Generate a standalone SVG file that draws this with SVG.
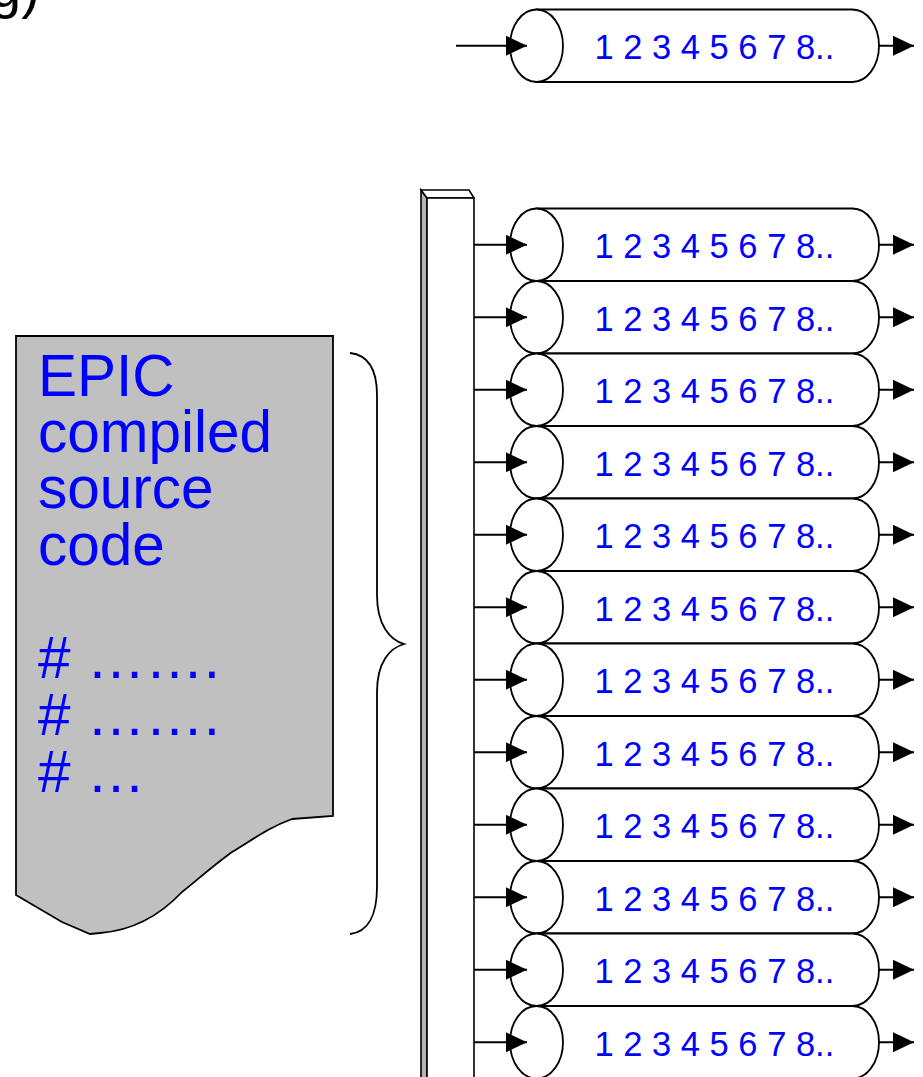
<svg xmlns="http://www.w3.org/2000/svg" xmlns:xlink="http://www.w3.org/1999/xlink" width="923" height="1077" viewBox="0 0 923 1077">
  <style>
    .ln { stroke: #000; stroke-width: 1.8; fill: none; }
    .cyl { stroke: #000; stroke-width: 1.8; fill: #fff; }
    .num { font-family: "Liberation Sans", Arial, sans-serif; font-size: 34.5px; fill: #0000ff; }
    .big { font-family: "Liberation Sans", Arial, sans-serif; font-size: 58.5px; fill: #0000ff; }
    .arr { stroke: #000; stroke-width: 1.8; fill: none; marker-end: url(#head); }
  </style>
  <defs>
    <marker id="head" markerUnits="userSpaceOnUse" markerWidth="21" markerHeight="20" refX="21" refY="10" orient="auto">
      <path d="M0,0 L21,10 L0,20 Z" fill="#000"/>
    </marker>
    <!-- one queue cylinder, centred vertically on y=0 -->
    <g id="cylinder">
      <path class="cyl" d="M536.5,-36.25 H852.5 A26.5,36.25 0 0 1 852.5,36.25 H536.5 Z"/>
      <ellipse class="cyl" cx="536.5" cy="0" rx="26.5" ry="36.25"/>
      <text class="num" x="594.5" y="13.5">1 2 3 4 5 6 7 8..</text>
    </g>
  </defs>

  <rect width="923" height="1077" fill="#fff"/>

  <!-- clipped heading fragment -->
  <text x="-10" y="7" font-family="Liberation Sans, Arial, sans-serif" font-size="56" fill="#000">g)</text>

  <!-- single queue at the top -->
  <g id="queue-top">
    <use xlink:href="#cylinder" transform="translate(0,45.75)"/>
  </g>

  <!-- source code document -->
  <g id="source-doc">
    <path d="M16,336 H333 V816 L292,819 C270,827 255,838 232,852 C210,868 195,882 182,892 C165,910 140,930 100,933 L90,934 L62,922 L16,895 Z" fill="#c0c0c0" stroke="#000" stroke-width="1.8"/>
    <text class="big" x="38" y="396">EPIC</text>
    <text class="big" x="38" y="452">compiled</text>
    <text class="big" x="38" y="508">source</text>
    <text class="big" x="38" y="565">code</text>
    <text class="big" x="38" y="678"># ……. </text>
    <text class="big" x="38" y="735"># ……. </text>
    <text class="big" x="38" y="792"># …</text>
  </g>

  <!-- brace -->
  <g id="brace">
    <path class="ln" d="M350,353 C368,355 377,370 377,395 L377,595 C377,625 390,640 404,644 C390,648 377,662 377,692 L377,887 C377,915 368,932 350,934"/>
  </g>

  <!-- distribution bar -->
  <g id="bar">
    <path d="M421,190 L427,198 L427,1080 L421,1080 Z" fill="#b4b4b4" stroke="#000" stroke-width="1.6"/>
    <path d="M421,190 L469,190 L474,198 L427,198 Z" fill="#fff" stroke="#000" stroke-width="1.6"/>
    <rect x="427" y="198" width="47" height="882" fill="#fff" stroke="#000" stroke-width="1.6"/>
  </g>

  <!-- stacked queues -->
  <g id="queue-1"><use xlink:href="#cylinder" transform="translate(0,244.75)"/></g>
  <g id="queue-2"><use xlink:href="#cylinder" transform="translate(0,317.25)"/></g>
  <g id="queue-3"><use xlink:href="#cylinder" transform="translate(0,389.75)"/></g>
  <g id="queue-4"><use xlink:href="#cylinder" transform="translate(0,462.25)"/></g>
  <g id="queue-5"><use xlink:href="#cylinder" transform="translate(0,534.75)"/></g>
  <g id="queue-6"><use xlink:href="#cylinder" transform="translate(0,607.25)"/></g>
  <g id="queue-7"><use xlink:href="#cylinder" transform="translate(0,679.75)"/></g>
  <g id="queue-8"><use xlink:href="#cylinder" transform="translate(0,752.25)"/></g>
  <g id="queue-9"><use xlink:href="#cylinder" transform="translate(0,824.75)"/></g>
  <g id="queue-10"><use xlink:href="#cylinder" transform="translate(0,897.25)"/></g>
  <g id="queue-11"><use xlink:href="#cylinder" transform="translate(0,969.75)"/></g>
  <g id="queue-12"><use xlink:href="#cylinder" transform="translate(0,1042.25)"/></g>

  <!-- connectors -->
  <g id="connectors">
    <line class="arr" x1="456" y1="45.75" x2="527" y2="45.75"/>
    <line class="arr" x1="879" y1="45.75" x2="914" y2="45.75"/>

    <line class="arr" x1="474" y1="244.75" x2="527" y2="244.75"/>
    <line class="arr" x1="474" y1="317.25" x2="527" y2="317.25"/>
    <line class="arr" x1="474" y1="389.75" x2="527" y2="389.75"/>
    <line class="arr" x1="474" y1="462.25" x2="527" y2="462.25"/>
    <line class="arr" x1="474" y1="534.75" x2="527" y2="534.75"/>
    <line class="arr" x1="474" y1="607.25" x2="527" y2="607.25"/>
    <line class="arr" x1="474" y1="679.75" x2="527" y2="679.75"/>
    <line class="arr" x1="474" y1="752.25" x2="527" y2="752.25"/>
    <line class="arr" x1="474" y1="824.75" x2="527" y2="824.75"/>
    <line class="arr" x1="474" y1="897.25" x2="527" y2="897.25"/>
    <line class="arr" x1="474" y1="969.75" x2="527" y2="969.75"/>
    <line class="arr" x1="474" y1="1042.25" x2="527" y2="1042.25"/>

    <line class="arr" x1="879" y1="244.75" x2="914" y2="244.75"/>
    <line class="arr" x1="879" y1="317.25" x2="914" y2="317.25"/>
    <line class="arr" x1="879" y1="389.75" x2="914" y2="389.75"/>
    <line class="arr" x1="879" y1="462.25" x2="914" y2="462.25"/>
    <line class="arr" x1="879" y1="534.75" x2="914" y2="534.75"/>
    <line class="arr" x1="879" y1="607.25" x2="914" y2="607.25"/>
    <line class="arr" x1="879" y1="679.75" x2="914" y2="679.75"/>
    <line class="arr" x1="879" y1="752.25" x2="914" y2="752.25"/>
    <line class="arr" x1="879" y1="824.75" x2="914" y2="824.75"/>
    <line class="arr" x1="879" y1="897.25" x2="914" y2="897.25"/>
    <line class="arr" x1="879" y1="969.75" x2="914" y2="969.75"/>
    <line class="arr" x1="879" y1="1042.25" x2="914" y2="1042.25"/>
  </g>
</svg>
